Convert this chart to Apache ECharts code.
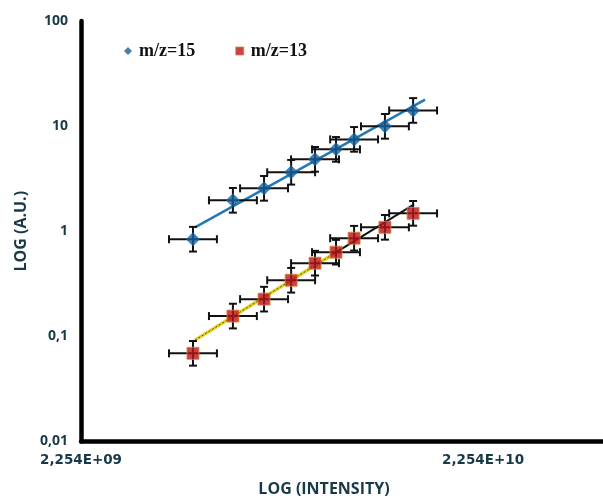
<!DOCTYPE html>
<html>
<head>
<meta charset="utf-8">
<script src="https://cdn.jsdelivr.net/npm/echarts@6/dist/echarts.min.js"></script>
<style>
    html, body { margin: 0; padding: 0; background: #fff; }
    #chart { width: 603px; height: 496px; }
</style>
</head>
<body>
<div id="chart"></div>
<script>
// intensity of each point (x), shared by both series
var intensity = [4.28e9, 5.38e9, 6.43e9, 7.51e9, 8.61e9, 9.71e9, 1.077e10, 1.285e10, 1.51e10];
var mz15 = [0.84, 1.97, 2.56, 3.64, 4.83, 6.01, 7.48, 9.95, 14.1];
var mz13 = [0.069, 0.156, 0.226, 0.342, 0.497, 0.632, 0.858, 1.09, 1.48];

// error bars, multiplicative (log scale)
var xErr = 1.147;
var yErr = 1.31;

// trend lines
var fitX15 = [4.33e9, 1.617e10];
var fit15 = [1.09, 17.9];
var fitX13 = [4.33e9, 9.55e9, 1.518e10];
var fit13 = [0.0921, 0.605, 1.805];

var xTicks = [2.254e9, 2.254e10];
var xTickLabels = ['2,254E+09', '2,254E+10'];
var yTickLabels = {'0.01': '0,01', '0.1': '0,1', '1': '1', '10': '10', '100': '100'};

var labelColor = '#173a46';

function pairs(xs, ys) {
    return xs.map(function (x, i) { return [x, ys[i]]; });
}

function errorBars(api) {
    var x = api.value(0), y = api.value(1);
    var l = api.coord([x / xErr, y]);
    var r = api.coord([x * xErr, y]);
    var t = api.coord([x, y * yErr]);
    var b = api.coord([x, y / yErr]);
    var cap = 4;
    var style = { stroke: '#111', lineWidth: 2 };
    var seg = function (x1, y1, x2, y2) {
        return { type: 'line', shape: { x1: x1, y1: y1, x2: x2, y2: y2 }, style: style };
    };
    return {
        type: 'group',
        children: [
            seg(l[0], l[1], r[0], r[1]),
            seg(l[0], l[1] - cap, l[0], l[1] + cap),
            seg(r[0], r[1] - cap, r[0], r[1] + cap),
            seg(t[0], t[1], b[0], b[1]),
            seg(t[0] - cap, t[1], t[0] + cap, t[1]),
            seg(b[0] - cap, b[1], b[0] + cap, b[1])
        ]
    };
}

var chart = echarts.init(document.getElementById('chart'));
var option = {
    animation: false,
    backgroundColor: '#fff',
    legend: {
        data: ['m/z=15', 'm/z=13'],
        left: 119,
        top: 37,
        itemWidth: 8,
        itemHeight: 8,
        itemGap: 40,
        itemStyle: { borderWidth: 1 },
        textStyle: {
            fontFamily: 'Liberation Serif',
            fontWeight: 'bold',
            fontSize: 18,
            color: '#111',
            padding: [0, 0, 0, 2]
        }
    },
    grid: {
        left: 81,
        right: 0,
        top: 21,
        bottom: 54.5,
        outerBoundsMode: 'none'
    },
    xAxis: {
        type: 'log',
        logBase: 10,
        min: 2.254e9,
        max: 4.48e10,
        name: 'LOG (INTENSITY)',
        nameLocation: 'middle',
        nameGap: 40,
        nameTextStyle: {
            fontFamily: 'Open Sans',
            fontWeight: 'bold',
            fontSize: 16,
            color: labelColor,
            padding: [0, 36, 0, 0]
        },
        axisLine: { lineStyle: { color: '#000', width: 4.5 } },
        axisTick: { show: false },
        splitLine: { show: false },
        axisLabel: {
            customValues: xTicks,
            margin: 12,
            fontFamily: 'DejaVu Sans',
            fontWeight: 'bold',
            fontSize: 13.5,
            color: labelColor,
            formatter: function (v) {
                var i = xTicks.findIndex(function (t) { return Math.abs(t - v) / t < 1e-3; });
                return i >= 0 ? xTickLabels[i] : '';
            }
        }
    },
    yAxis: {
        type: 'log',
        logBase: 10,
        min: 0.01,
        max: 100,
        name: 'LOG (A.U.)',
        nameLocation: 'middle',
        nameGap: 48,
        nameTextStyle: {
            fontFamily: 'Open Sans',
            fontWeight: 'bold',
            fontSize: 16,
            color: labelColor
        },
        axisLine: { lineStyle: { color: '#000', width: 4.5 } },
        axisTick: { show: false },
        splitLine: { show: false },
        axisLabel: {
            margin: 13,
            fontFamily: 'Open Sans',
            fontWeight: 'bold',
            fontSize: 14,
            color: labelColor,
            formatter: function (v) {
                var key = String(+v.toPrecision(3));
                return yTickLabels[key] !== undefined ? yTickLabels[key] : '';
            }
        }
    },
    series: [
        {
            name: 'fit15',
            type: 'line',
            data: pairs(fitX15, fit15),
            showSymbol: false,
            silent: true,
            z: 1,
            lineStyle: { color: '#2479b5', width: 2.5 }
        },
        {
            name: 'fit13-low',
            type: 'line',
            data: pairs(fitX13.slice(0, 2), fit13.slice(0, 2)),
            showSymbol: false,
            silent: true,
            z: 1,
            lineStyle: { color: '#e6d020', width: 3.5 }
        },
        {
            name: 'fit13-low-dots',
            type: 'line',
            data: pairs(fitX13.slice(0, 2), fit13.slice(0, 2)),
            showSymbol: false,
            silent: true,
            z: 1,
            lineStyle: { color: '#4b5a24', width: 1, type: [2, 2] }
        },
        {
            name: 'fit13-high',
            type: 'line',
            data: pairs(fitX13.slice(1), fit13.slice(1)),
            showSymbol: false,
            silent: true,
            z: 1,
            lineStyle: { color: '#111', width: 2 }
        },
        {
            name: 'err15',
            type: 'custom',
            data: pairs(intensity, mz15),
            renderItem: function (params, api) { return errorBars(api); },
            silent: true,
            z: 2
        },
        {
            name: 'err13',
            type: 'custom',
            data: pairs(intensity, mz13),
            renderItem: function (params, api) { return errorBars(api); },
            silent: true,
            z: 2
        },
        {
            name: 'm/z=15',
            type: 'scatter',
            data: pairs(intensity, mz15),
            symbol: 'diamond',
            symbolSize: 14,
            z: 3,
            itemStyle: { color: '#14609f' }
        },
        {
            name: 'm/z=13',
            type: 'scatter',
            data: pairs(intensity, mz13),
            symbol: 'rect',
            symbolSize: 12,
            z: 3,
            itemStyle: { color: '#b8141a', borderColor: '#d98a3a', borderWidth: 1 }
        }
    ]
};
chart.setOption(option);
</script>
</body>
</html>
